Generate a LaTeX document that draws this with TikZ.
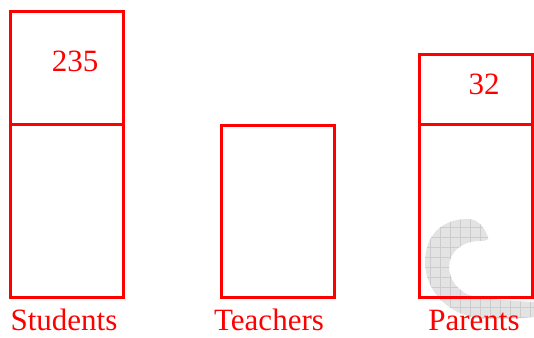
\documentclass[tikz,border=0pt]{standalone}
\usepackage{fontspec}
\setmainfont{Liberation Serif}
\begin{document}
\begin{tikzpicture}[x=1pt,y=1pt,
  box/.style={draw=red, line width=3pt, inner sep=0pt, minimum width=113pt},
  lbl/.style={text=red, font=\fontsize{31}{36}\selectfont, anchor=base, inner sep=0pt}]
\useasboundingbox (0,0) rectangle (534,337);
% watermark
\begin{scope}
\path[clip] (488,100) .. controls (484,110) and (478,118) .. (468,118)
  .. controls (440,118) and (425,100) .. (425,75)
  .. controls (425,45) and (450,20) .. (485,18)
  .. controls (505,17) and (520,19) .. (534,20)
  -- (534,35)
  .. controls (510,36) and (490,38) .. (475,40)
  .. controls (458,44) and (449,58) .. (449,70)
  .. controls (449,85) and (462,96) .. (480,96)
  .. controls (485,96) and (490,97) .. (488,100) -- cycle;
\fill[gray!22] (400,0) rectangle (534,130);
\draw[gray!40, line width=0.6pt] (400,0) grid[step=10] (534,130);
\end{scope}
% boxes
\node[box, minimum height=113pt] (stop) at (66.5,337-68.5) {};
\node[box, minimum height=172pt] (sbot) at (66.5,337-211) {};
\node[box, minimum height=171pt] (teach) at (277.5,337-211.5) {};
\node[box, minimum height=70pt] (ptop) at (475.5,337-90) {};
\node[box, minimum height=172pt] (pbot) at (475.5,337-211) {};
% texts
\node[lbl] (n235) at (75,337-72) {235};
\node[lbl] (n32) at (484,337-95) {32};
\node[lbl] (ls) at (64,337-330) {Students};
\node[lbl] (lt) at (269,337-330) {Teachers};
\node[lbl] (lp) at (474,337-330) {Parents};
\end{tikzpicture}
\end{document}
